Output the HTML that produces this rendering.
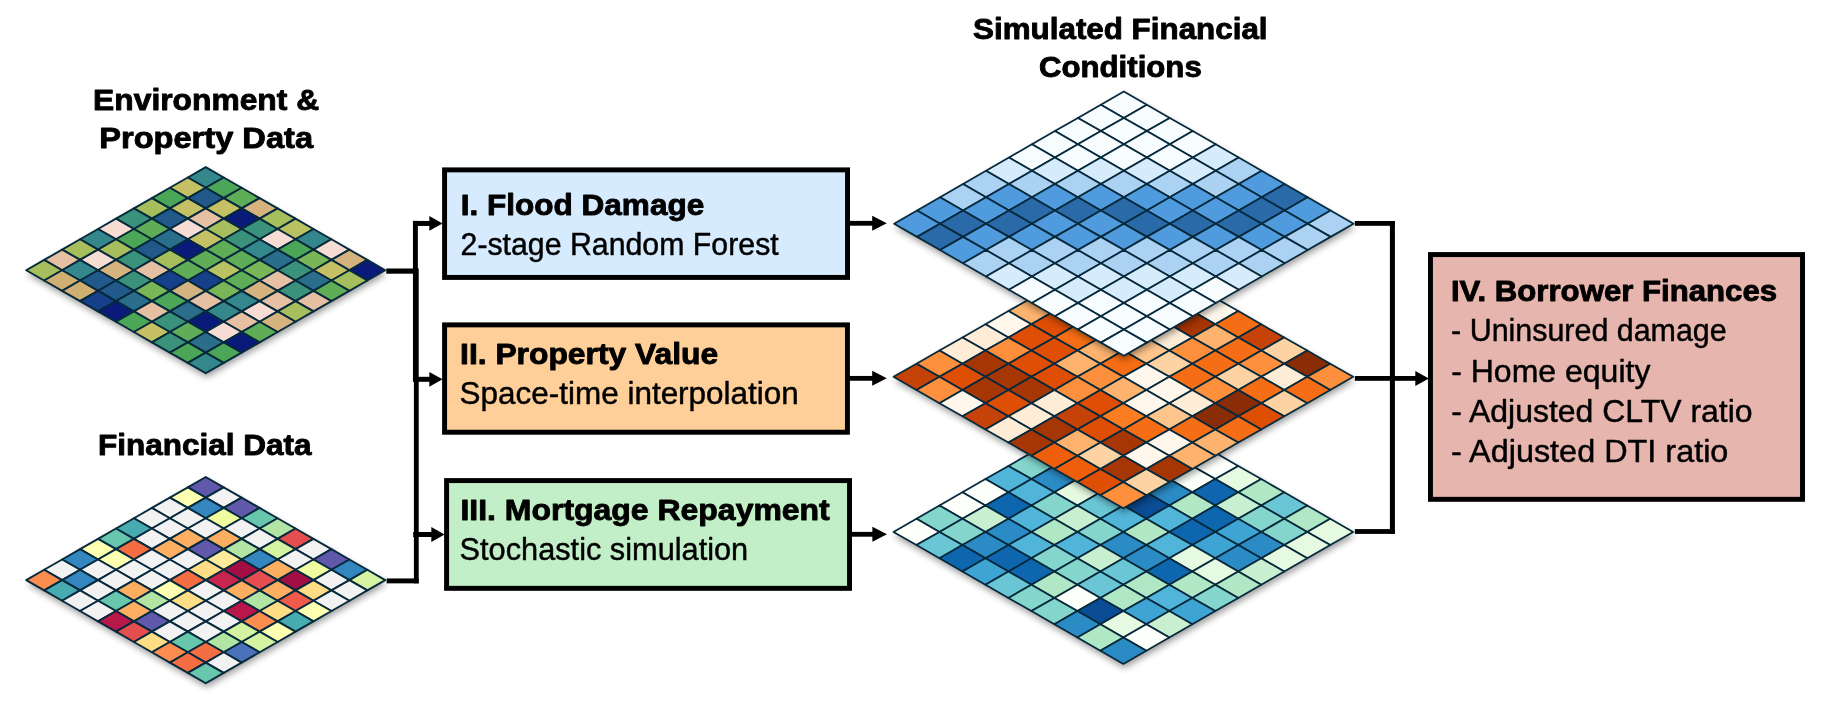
<!DOCTYPE html>
<html lang="en"><head><meta charset="utf-8"><title>Framework diagram</title>
<style>
html,body{margin:0;padding:0;background:#fff;}
body{width:1823px;height:710px;overflow:hidden;}
svg{display:block;}
text{font-family:"Liberation Sans",sans-serif;fill:#000;stroke:#000;stroke-linejoin:round;}
</style></head><body>
<svg width="1823" height="710" viewBox="0 0 1823 710">
<defs>
<filter id="sh" x="-10%" y="-10%" width="120%" height="125%">
<feGaussianBlur stdDeviation="3.6"/>
<feOffset dx="0.6" dy="3.6"/>
</filter>
</defs>
<rect width="1823" height="710" fill="#fff"/>

<g fill="#000" shape-rendering="geometricPrecision">
<rect x="386.30" y="268.50" width="31.70" height="5.20"/>
<rect x="386.60" y="578.45" width="32.10" height="4.90"/>
<rect x="412.95" y="220.90" width="4.90" height="160.80"/>
<rect x="413.90" y="268.50" width="4.80" height="314.80"/>
<rect x="413.00" y="220.95" width="18.00" height="5.00"/>
<rect x="413.00" y="376.80" width="18.00" height="5.00"/>
<rect x="413.20" y="532.00" width="18.80" height="5.00"/>
<polygon points="442.60,223.45 429.30,216.05 429.30,230.85"/>
<polygon points="442.60,379.30 429.30,371.90 429.30,386.70"/>
<polygon points="444.60,534.50 431.30,527.10 431.30,541.90"/>
<rect x="849.00" y="220.90" width="25.00" height="4.80"/>
<rect x="849.00" y="375.95" width="25.00" height="4.80"/>
<rect x="851.00" y="531.90" width="23.00" height="4.80"/>
<polygon points="886.80,223.30 872.20,215.80 872.20,230.80"/>
<polygon points="886.80,378.35 872.20,370.85 872.20,385.85"/>
<polygon points="887.00,534.30 872.40,526.80 872.40,541.80"/>
<rect x="1354.80" y="221.00" width="40.10" height="4.80"/>
<rect x="1354.80" y="529.10" width="40.10" height="4.80"/>
<rect x="1389.90" y="221.00" width="5.00" height="312.90"/>
<rect x="1354.80" y="376.00" width="62.20" height="4.80"/>
<polygon points="1428.90,378.40 1415.30,370.90 1415.30,385.90"/>
</g>
<g id="g-env">
<polygon points="205.75,167.15 385.30,270.20 205.75,373.25 26.20,270.20" fill="#000" opacity="0.4" filter="url(#sh)"/>
<g stroke="#06293c" stroke-width="1.9" stroke-linejoin="round">
<polygon points="205.75,167.15 223.70,177.45 205.75,187.76 187.80,177.45" fill="#34878a"/>
<polygon points="187.80,177.45 205.75,187.76 187.80,198.06 169.84,187.76" fill="#c6c064"/>
<polygon points="223.70,177.45 241.66,187.76 223.70,198.06 205.75,187.76" fill="#4ca657"/>
<polygon points="169.84,187.76 187.80,198.06 169.84,208.37 151.88,198.06" fill="#4ca657"/>
<polygon points="205.75,187.76 223.70,198.06 205.75,208.37 187.80,198.06" fill="#20598a"/>
<polygon points="241.66,187.76 259.62,198.06 241.66,208.37 223.70,198.06" fill="#5fae57"/>
<polygon points="151.88,198.06 169.84,208.37 151.88,218.67 133.93,208.37" fill="#a6bf5c"/>
<polygon points="187.80,198.06 205.75,208.37 187.80,218.67 169.84,208.37" fill="#c6c064"/>
<polygon points="223.70,198.06 241.66,208.37 223.70,218.67 205.75,208.37" fill="#c6c064"/>
<polygon points="259.62,198.06 277.57,208.37 259.62,218.67 241.66,208.37" fill="#d5b37e"/>
<polygon points="133.93,208.37 151.88,218.67 133.93,228.98 115.98,218.67" fill="#3a927a"/>
<polygon points="169.84,208.37 187.80,218.67 169.84,228.98 151.88,218.67" fill="#20598a"/>
<polygon points="205.75,208.37 223.70,218.67 205.75,228.98 187.80,218.67" fill="#e5c0a3"/>
<polygon points="241.66,208.37 259.62,218.67 241.66,228.98 223.70,218.67" fill="#0a1a7a"/>
<polygon points="277.57,208.37 295.52,218.67 277.57,228.98 259.62,218.67" fill="#a6bf5c"/>
<polygon points="115.98,218.67 133.93,228.98 115.98,239.28 98.02,228.98" fill="#f6dcd2"/>
<polygon points="151.88,218.67 169.84,228.98 151.88,239.28 133.93,228.98" fill="#5fae57"/>
<polygon points="187.80,218.67 205.75,228.98 187.80,239.28 169.84,228.98" fill="#f6dcd2"/>
<polygon points="223.70,218.67 241.66,228.98 223.70,239.28 205.75,228.98" fill="#a6bf5c"/>
<polygon points="259.62,218.67 277.57,228.98 259.62,239.28 241.66,228.98" fill="#3a927a"/>
<polygon points="295.52,218.67 313.48,228.98 295.52,239.28 277.57,228.98" fill="#b8c260"/>
<polygon points="98.02,228.98 115.98,239.28 98.02,249.59 80.07,239.28" fill="#34878a"/>
<polygon points="133.93,228.98 151.88,239.28 133.93,249.59 115.98,239.28" fill="#4ca657"/>
<polygon points="169.84,228.98 187.80,239.28 169.84,249.59 151.88,239.28" fill="#2a6e8c"/>
<polygon points="205.75,228.98 223.70,239.28 205.75,249.59 187.80,239.28" fill="#c6c064"/>
<polygon points="241.66,228.98 259.62,239.28 241.66,249.59 223.70,239.28" fill="#3a927a"/>
<polygon points="277.57,228.98 295.52,239.28 277.57,249.59 259.62,239.28" fill="#f6dcd2"/>
<polygon points="313.48,228.98 331.44,239.28 313.48,249.59 295.53,239.28" fill="#34878a"/>
<polygon points="80.07,239.28 98.02,249.59 80.07,259.89 62.11,249.59" fill="#a6bf5c"/>
<polygon points="115.98,239.28 133.93,249.59 115.98,259.89 98.02,249.59" fill="#a6bf5c"/>
<polygon points="151.88,239.28 169.84,249.59 151.88,259.89 133.93,249.59" fill="#20598a"/>
<polygon points="187.80,239.28 205.75,249.59 187.80,259.89 169.84,249.59" fill="#0a1a7a"/>
<polygon points="223.70,239.28 241.66,249.59 223.70,259.89 205.75,249.59" fill="#5fae57"/>
<polygon points="259.62,239.28 277.57,249.59 259.62,259.89 241.66,249.59" fill="#34878a"/>
<polygon points="295.52,239.28 313.48,249.59 295.52,259.89 277.57,249.59" fill="#4ca657"/>
<polygon points="331.44,239.28 349.39,249.59 331.44,259.89 313.48,249.59" fill="#f6dcd2"/>
<polygon points="62.11,249.59 80.07,259.89 62.11,270.20 44.16,259.89" fill="#e5c0a3"/>
<polygon points="98.02,249.59 115.98,259.89 98.02,270.20 80.07,259.89" fill="#f6dcd2"/>
<polygon points="133.93,249.59 151.88,259.89 133.93,270.20 115.98,259.89" fill="#3a927a"/>
<polygon points="169.84,249.59 187.80,259.89 169.84,270.20 151.88,259.89" fill="#a6bf5c"/>
<polygon points="205.75,249.59 223.70,259.89 205.75,270.20 187.80,259.89" fill="#5fae57"/>
<polygon points="241.66,249.59 259.62,259.89 241.66,270.20 223.70,259.89" fill="#5fae57"/>
<polygon points="277.57,249.59 295.52,259.89 277.57,270.20 259.62,259.89" fill="#2a6e8c"/>
<polygon points="313.48,249.59 331.44,259.89 313.48,270.20 295.53,259.89" fill="#7ab558"/>
<polygon points="349.39,249.59 367.34,259.89 349.39,270.20 331.44,259.89" fill="#d5b37e"/>
<polygon points="44.16,259.89 62.11,270.20 44.16,280.50 26.20,270.20" fill="#a6bf5c"/>
<polygon points="80.07,259.89 98.02,270.20 80.07,280.50 62.11,270.20" fill="#34878a"/>
<polygon points="115.98,259.89 133.93,270.20 115.98,280.50 98.02,270.20" fill="#d5b37e"/>
<polygon points="151.88,259.89 169.84,270.20 151.88,280.50 133.93,270.20" fill="#e5c0a3"/>
<polygon points="187.80,259.89 205.75,270.20 187.80,280.50 169.84,270.20" fill="#5fae57"/>
<polygon points="223.70,259.89 241.66,270.20 223.70,280.50 205.75,270.20" fill="#b8c260"/>
<polygon points="259.62,259.89 277.57,270.20 259.62,280.50 241.66,270.20" fill="#7ab558"/>
<polygon points="295.52,259.89 313.48,270.20 295.52,280.50 277.57,270.20" fill="#3a927a"/>
<polygon points="331.44,259.89 349.39,270.20 331.44,280.50 313.48,270.20" fill="#c6c064"/>
<polygon points="367.34,259.89 385.30,270.20 367.34,280.50 349.39,270.20" fill="#0a1a7a"/>
<polygon points="62.11,270.20 80.07,280.50 62.11,290.81 44.16,280.50" fill="#cfb072"/>
<polygon points="98.02,270.20 115.98,280.50 98.02,290.81 80.07,280.50" fill="#20598a"/>
<polygon points="133.93,270.20 151.88,280.50 133.93,290.81 115.98,280.50" fill="#3a927a"/>
<polygon points="169.84,270.20 187.80,280.50 169.84,290.81 151.88,280.50" fill="#17408a"/>
<polygon points="205.75,270.20 223.70,280.50 205.75,290.81 187.80,280.50" fill="#17408a"/>
<polygon points="241.66,270.20 259.62,280.50 241.66,290.81 223.70,280.50" fill="#5fae57"/>
<polygon points="277.57,270.20 295.52,280.50 277.57,290.81 259.62,280.50" fill="#e5c0a3"/>
<polygon points="313.48,270.20 331.44,280.50 313.48,290.81 295.53,280.50" fill="#2a6e8c"/>
<polygon points="349.39,270.20 367.34,280.50 349.39,290.81 331.44,280.50" fill="#a6bf5c"/>
<polygon points="80.07,280.50 98.02,290.81 80.07,301.11 62.11,290.81" fill="#cfb072"/>
<polygon points="115.98,280.50 133.93,290.81 115.98,301.11 98.02,290.81" fill="#20598a"/>
<polygon points="151.88,280.50 169.84,290.81 151.88,301.11 133.93,290.81" fill="#7ab558"/>
<polygon points="187.80,280.50 205.75,290.81 187.80,301.11 169.84,290.81" fill="#d5b37e"/>
<polygon points="223.70,280.50 241.66,290.81 223.70,301.11 205.75,290.81" fill="#7ab558"/>
<polygon points="259.62,280.50 277.57,290.81 259.62,301.11 241.66,290.81" fill="#d5b37e"/>
<polygon points="295.52,280.50 313.48,290.81 295.52,301.11 277.57,290.81" fill="#3a927a"/>
<polygon points="331.44,280.50 349.39,290.81 331.44,301.11 313.48,290.81" fill="#5fae57"/>
<polygon points="98.02,290.81 115.98,301.12 98.02,311.42 80.07,301.12" fill="#17408a"/>
<polygon points="133.93,290.81 151.88,301.12 133.93,311.42 115.98,301.12" fill="#2a6e8c"/>
<polygon points="169.84,290.81 187.80,301.12 169.84,311.42 151.88,301.12" fill="#4ca657"/>
<polygon points="205.75,290.81 223.70,301.12 205.75,311.42 187.80,301.12" fill="#e5c0a3"/>
<polygon points="241.66,290.81 259.62,301.12 241.66,311.42 223.70,301.12" fill="#34878a"/>
<polygon points="277.57,290.81 295.52,301.12 277.57,311.42 259.62,301.12" fill="#e5c0a3"/>
<polygon points="313.48,290.81 331.44,301.12 313.48,311.42 295.53,301.12" fill="#e5c0a3"/>
<polygon points="115.98,301.11 133.93,311.42 115.98,321.72 98.02,311.42" fill="#0a1a7a"/>
<polygon points="151.88,301.11 169.84,311.42 151.88,321.72 133.93,311.42" fill="#e5c0a3"/>
<polygon points="187.80,301.11 205.75,311.42 187.80,321.72 169.84,311.42" fill="#2a6e8c"/>
<polygon points="223.70,301.11 241.66,311.42 223.70,321.72 205.75,311.42" fill="#34878a"/>
<polygon points="259.62,301.11 277.57,311.42 259.62,321.72 241.66,311.42" fill="#f6dcd2"/>
<polygon points="295.52,301.11 313.48,311.42 295.52,321.72 277.57,311.42" fill="#a6bf5c"/>
<polygon points="133.93,311.42 151.88,321.72 133.93,332.03 115.98,321.72" fill="#4ca657"/>
<polygon points="169.84,311.42 187.80,321.72 169.84,332.03 151.88,321.72" fill="#3a927a"/>
<polygon points="205.75,311.42 223.70,321.72 205.75,332.03 187.80,321.72" fill="#0a1a7a"/>
<polygon points="241.66,311.42 259.62,321.72 241.66,332.03 223.70,321.72" fill="#e5c0a3"/>
<polygon points="277.57,311.42 295.52,321.72 277.57,332.03 259.62,321.72" fill="#d5b37e"/>
<polygon points="151.88,321.72 169.84,332.03 151.88,342.33 133.93,332.03" fill="#c6c064"/>
<polygon points="187.80,321.72 205.75,332.03 187.80,342.33 169.84,332.03" fill="#5fae57"/>
<polygon points="223.70,321.72 241.66,332.03 223.70,342.33 205.75,332.03" fill="#f6dcd2"/>
<polygon points="259.62,321.72 277.57,332.03 259.62,342.33 241.66,332.03" fill="#5fae57"/>
<polygon points="169.84,332.03 187.80,342.33 169.84,352.64 151.88,342.33" fill="#3a927a"/>
<polygon points="205.75,332.03 223.70,342.33 205.75,352.64 187.80,342.33" fill="#2a6e8c"/>
<polygon points="241.66,332.03 259.62,342.33 241.66,352.64 223.70,342.33" fill="#0a1a7a"/>
<polygon points="187.80,342.33 205.75,352.64 187.80,362.94 169.84,352.64" fill="#4ca657"/>
<polygon points="223.70,342.33 241.66,352.64 223.70,362.94 205.75,352.64" fill="#4ca657"/>
<polygon points="205.75,352.64 223.70,362.94 205.75,373.25 187.80,362.94" fill="#34878a"/>
</g></g>
<g id="g-fin">
<polygon points="205.75,477.00 385.30,580.10 205.75,683.20 26.20,580.10" fill="#000" opacity="0.4" filter="url(#sh)"/>
<g stroke="#06293c" stroke-width="1.9" stroke-linejoin="round">
<polygon points="205.75,477.00 223.70,487.31 205.75,497.62 187.80,487.31" fill="#5f58ab"/>
<polygon points="187.80,487.31 205.75,497.62 187.80,507.93 169.84,497.62" fill="#ffffb2"/>
<polygon points="223.70,487.31 241.66,497.62 223.70,507.93 205.75,497.62" fill="#f2f2f2"/>
<polygon points="169.84,497.62 187.80,507.93 169.84,518.24 151.88,507.93" fill="#f2f2f2"/>
<polygon points="205.75,497.62 223.70,507.93 205.75,518.24 187.80,507.93" fill="#3386be"/>
<polygon points="241.66,497.62 259.62,507.93 241.66,518.24 223.70,507.93" fill="#5f58ab"/>
<polygon points="151.88,507.93 169.84,518.24 151.88,528.55 133.93,518.24" fill="#f2f2f2"/>
<polygon points="187.80,507.93 205.75,518.24 187.80,528.55 169.84,518.24" fill="#f2f2f2"/>
<polygon points="223.70,507.93 241.66,518.24 223.70,528.55 205.75,518.24" fill="#effca0"/>
<polygon points="259.62,507.93 277.57,518.24 259.62,528.55 241.66,518.24" fill="#68c6ac"/>
<polygon points="133.93,518.24 151.88,528.55 133.93,538.86 115.98,528.55" fill="#47abb1"/>
<polygon points="169.84,518.24 187.80,528.55 169.84,538.86 151.88,528.55" fill="#f2f2f2"/>
<polygon points="205.75,518.24 223.70,528.55 205.75,538.86 187.80,528.55" fill="#f2f2f2"/>
<polygon points="241.66,518.24 259.62,528.55 241.66,538.86 223.70,528.55" fill="#f2f2f2"/>
<polygon points="277.57,518.24 295.52,528.55 277.57,538.86 259.62,528.55" fill="#b2e4a3"/>
<polygon points="115.98,528.55 133.93,538.86 115.98,549.17 98.02,538.86" fill="#68c6ac"/>
<polygon points="151.88,528.55 169.84,538.86 151.88,549.17 133.93,538.86" fill="#f2f2f2"/>
<polygon points="187.80,528.55 205.75,538.86 187.80,549.17 169.84,538.86" fill="#fdae61"/>
<polygon points="223.70,528.55 241.66,538.86 223.70,549.17 205.75,538.86" fill="#fdae61"/>
<polygon points="259.62,528.55 277.57,538.86 259.62,549.17 241.66,538.86" fill="#f2f2f2"/>
<polygon points="295.52,528.55 313.48,538.86 295.52,549.17 277.57,538.86" fill="#e54e4e"/>
<polygon points="98.02,538.86 115.98,549.17 98.02,559.48 80.07,549.17" fill="#ffffb2"/>
<polygon points="133.93,538.86 151.88,549.17 133.93,559.48 115.98,549.17" fill="#f46d43"/>
<polygon points="169.84,538.86 187.80,549.17 169.84,559.48 151.88,549.17" fill="#fdae61"/>
<polygon points="205.75,538.86 223.70,549.17 205.75,559.48 187.80,549.17" fill="#5f58ab"/>
<polygon points="241.66,538.86 259.62,549.17 241.66,559.48 223.70,549.17" fill="#b2e4a3"/>
<polygon points="277.57,538.86 295.52,549.17 277.57,559.48 259.62,549.17" fill="#d5f3a0"/>
<polygon points="313.48,538.86 331.44,549.17 313.48,559.48 295.53,549.17" fill="#f2f2f2"/>
<polygon points="80.07,549.17 98.02,559.48 80.07,569.79 62.11,559.48" fill="#3386be"/>
<polygon points="115.98,549.17 133.93,559.48 115.98,569.79 98.02,559.48" fill="#ffffb2"/>
<polygon points="151.88,549.17 169.84,559.48 151.88,569.79 133.93,559.48" fill="#f2f2f2"/>
<polygon points="187.80,549.17 205.75,559.48 187.80,569.79 169.84,559.48" fill="#f2f2f2"/>
<polygon points="223.70,549.17 241.66,559.48 223.70,569.79 205.75,559.48" fill="#feea99"/>
<polygon points="259.62,549.17 277.57,559.48 259.62,569.79 241.66,559.48" fill="#3386be"/>
<polygon points="295.52,549.17 313.48,559.48 295.52,569.79 277.57,559.48" fill="#f2f2f2"/>
<polygon points="331.44,549.17 349.39,559.48 331.44,569.79 313.48,559.48" fill="#5f58ab"/>
<polygon points="62.11,559.48 80.07,569.79 62.11,580.10 44.16,569.79" fill="#f2f2f2"/>
<polygon points="98.02,559.48 115.98,569.79 98.02,580.10 80.07,569.79" fill="#f2f2f2"/>
<polygon points="133.93,559.48 151.88,569.79 133.93,580.10 115.98,569.79" fill="#f2f2f2"/>
<polygon points="169.84,559.48 187.80,569.79 169.84,580.10 151.88,569.79" fill="#f2f2f2"/>
<polygon points="205.75,559.48 223.70,569.79 205.75,580.10 187.80,569.79" fill="#fedd85"/>
<polygon points="241.66,559.48 259.62,569.79 241.66,580.10 223.70,569.79" fill="#a30f45"/>
<polygon points="277.57,559.48 295.52,569.79 277.57,580.10 259.62,569.79" fill="#fdae61"/>
<polygon points="313.48,559.48 331.44,569.79 313.48,580.10 295.53,569.79" fill="#effca0"/>
<polygon points="349.39,559.48 367.34,569.79 349.39,580.10 331.44,569.79" fill="#3386be"/>
<polygon points="44.16,569.79 62.11,580.10 44.16,590.41 26.20,580.10" fill="#fc8d4e"/>
<polygon points="80.07,569.79 98.02,580.10 80.07,590.41 62.11,580.10" fill="#3386be"/>
<polygon points="115.98,569.79 133.93,580.10 115.98,590.41 98.02,580.10" fill="#f2f2f2"/>
<polygon points="151.88,569.79 169.84,580.10 151.88,590.41 133.93,580.10" fill="#f2f2f2"/>
<polygon points="187.80,569.79 205.75,580.10 187.80,590.41 169.84,580.10" fill="#f46d43"/>
<polygon points="223.70,569.79 241.66,580.10 223.70,590.41 205.75,580.10" fill="#c8254c"/>
<polygon points="259.62,569.79 277.57,580.10 259.62,590.41 241.66,580.10" fill="#e54e4e"/>
<polygon points="295.52,569.79 313.48,580.10 295.52,590.41 277.57,580.10" fill="#a30f45"/>
<polygon points="331.44,569.79 349.39,580.10 331.44,590.41 313.48,580.10" fill="#f2f2f2"/>
<polygon points="367.34,569.79 385.30,580.10 367.34,590.41 349.39,580.10" fill="#d5f3a0"/>
<polygon points="62.11,580.10 80.07,590.41 62.11,600.72 44.16,590.41" fill="#47abb1"/>
<polygon points="98.02,580.10 115.98,590.41 98.02,600.72 80.07,590.41" fill="#f2f2f2"/>
<polygon points="133.93,580.10 151.88,590.41 133.93,600.72 115.98,590.41" fill="#fdae61"/>
<polygon points="169.84,580.10 187.80,590.41 169.84,600.72 151.88,590.41" fill="#ffffb2"/>
<polygon points="205.75,580.10 223.70,590.41 205.75,600.72 187.80,590.41" fill="#f2f2f2"/>
<polygon points="241.66,580.10 259.62,590.41 241.66,600.72 223.70,590.41" fill="#fdae61"/>
<polygon points="277.57,580.10 295.52,590.41 277.57,600.72 259.62,590.41" fill="#fdae61"/>
<polygon points="313.48,580.10 331.44,590.41 313.48,600.72 295.53,590.41" fill="#fedd85"/>
<polygon points="349.39,580.10 367.34,590.41 349.39,600.72 331.44,590.41" fill="#f2f2f2"/>
<polygon points="80.07,590.41 98.02,600.72 80.07,611.03 62.11,600.72" fill="#f2f2f2"/>
<polygon points="115.98,590.41 133.93,600.72 115.98,611.03 98.02,600.72" fill="#68c6ac"/>
<polygon points="151.88,590.41 169.84,600.72 151.88,611.03 133.93,600.72" fill="#b2e4a3"/>
<polygon points="187.80,590.41 205.75,600.72 187.80,611.03 169.84,600.72" fill="#fedd85"/>
<polygon points="223.70,590.41 241.66,600.72 223.70,611.03 205.75,600.72" fill="#f2f2f2"/>
<polygon points="259.62,590.41 277.57,600.72 259.62,611.03 241.66,600.72" fill="#b2e4a3"/>
<polygon points="295.52,590.41 313.48,600.72 295.52,611.03 277.57,600.72" fill="#f05a4b"/>
<polygon points="331.44,590.41 349.39,600.72 331.44,611.03 313.48,600.72" fill="#f2f2f2"/>
<polygon points="98.02,600.72 115.98,611.03 98.02,621.34 80.07,611.03" fill="#f2f2f2"/>
<polygon points="133.93,600.72 151.88,611.03 133.93,621.34 115.98,611.03" fill="#fdae61"/>
<polygon points="169.84,600.72 187.80,611.03 169.84,621.34 151.88,611.03" fill="#f2f2f2"/>
<polygon points="205.75,600.72 223.70,611.03 205.75,621.34 187.80,611.03" fill="#f2f2f2"/>
<polygon points="241.66,600.72 259.62,611.03 241.66,621.34 223.70,611.03" fill="#b8174a"/>
<polygon points="277.57,600.72 295.52,611.03 277.57,621.34 259.62,611.03" fill="#fedd85"/>
<polygon points="313.48,600.72 331.44,611.03 313.48,621.34 295.53,611.03" fill="#ffffb2"/>
<polygon points="115.98,611.03 133.93,621.34 115.98,631.65 98.02,621.34" fill="#b8174a"/>
<polygon points="151.88,611.03 169.84,621.34 151.88,631.65 133.93,621.34" fill="#5f58ab"/>
<polygon points="187.80,611.03 205.75,621.34 187.80,631.65 169.84,621.34" fill="#f2f2f2"/>
<polygon points="223.70,611.03 241.66,621.34 223.70,631.65 205.75,621.34" fill="#f2f2f2"/>
<polygon points="259.62,611.03 277.57,621.34 259.62,631.65 241.66,621.34" fill="#fc8d4e"/>
<polygon points="295.52,611.03 313.48,621.34 295.52,631.65 277.57,621.34" fill="#47abb1"/>
<polygon points="133.93,621.34 151.88,631.65 133.93,641.96 115.98,631.65" fill="#e54e4e"/>
<polygon points="169.84,621.34 187.80,631.65 169.84,641.96 151.88,631.65" fill="#f2f2f2"/>
<polygon points="205.75,621.34 223.70,631.65 205.75,641.96 187.80,631.65" fill="#f2f2f2"/>
<polygon points="241.66,621.34 259.62,631.65 241.66,641.96 223.70,631.65" fill="#d5f3a0"/>
<polygon points="277.57,621.34 295.52,631.65 277.57,641.96 259.62,631.65" fill="#ffffb2"/>
<polygon points="151.88,631.65 169.84,641.96 151.88,652.27 133.93,641.96" fill="#fedd85"/>
<polygon points="187.80,631.65 205.75,641.96 187.80,652.27 169.84,641.96" fill="#68c6ac"/>
<polygon points="223.70,631.65 241.66,641.96 223.70,652.27 205.75,641.96" fill="#b2e4a3"/>
<polygon points="259.62,631.65 277.57,641.96 259.62,652.27 241.66,641.96" fill="#d5f3a0"/>
<polygon points="169.84,641.96 187.80,652.27 169.84,662.58 151.88,652.27" fill="#fc8d4e"/>
<polygon points="205.75,641.96 223.70,652.27 205.75,662.58 187.80,652.27" fill="#f46d43"/>
<polygon points="241.66,641.96 259.62,652.27 241.66,662.58 223.70,652.27" fill="#4a72ba"/>
<polygon points="187.80,652.27 205.75,662.58 187.80,672.89 169.84,662.58" fill="#f46d43"/>
<polygon points="223.70,652.27 241.66,662.58 223.70,672.89 205.75,662.58" fill="#f2f2f2"/>
<polygon points="205.75,662.58 223.70,672.89 205.75,683.20 187.80,672.89" fill="#68c6ac"/>
</g></g>
<g id="g-teal">
<polygon points="1123.35,399.90 1353.20,531.90 1123.35,663.90 893.50,531.90" fill="#000" opacity="0.4" filter="url(#sh)"/>
<g stroke="#06293c" stroke-width="1.75" stroke-linejoin="round">
<polygon points="1123.35,399.90 1146.33,413.10 1123.35,426.30 1100.37,413.10" fill="#84d6cc"/>
<polygon points="1100.37,413.10 1123.35,426.30 1100.37,439.50 1077.38,426.30" fill="#b0e7c4"/>
<polygon points="1146.33,413.10 1169.32,426.30 1146.33,439.50 1123.35,426.30" fill="#50b5d8"/>
<polygon points="1077.38,426.30 1100.36,439.50 1077.38,452.70 1054.39,439.50" fill="#84d6cc"/>
<polygon points="1123.35,426.30 1146.33,439.50 1123.35,452.70 1100.37,439.50" fill="#2b8bc5"/>
<polygon points="1169.32,426.30 1192.30,439.50 1169.32,452.70 1146.34,439.50" fill="#e6fae2"/>
<polygon points="1054.39,439.50 1077.38,452.70 1054.39,465.90 1031.41,452.70" fill="#50b5d8"/>
<polygon points="1100.37,439.50 1123.35,452.70 1100.37,465.90 1077.38,452.70" fill="#c8f0d0"/>
<polygon points="1146.33,439.50 1169.32,452.70 1146.33,465.90 1123.35,452.70" fill="#84d6cc"/>
<polygon points="1192.30,439.50 1215.29,452.70 1192.30,465.90 1169.32,452.70" fill="#e6fae2"/>
<polygon points="1031.41,452.70 1054.39,465.90 1031.41,479.10 1008.42,465.90" fill="#84d6cc"/>
<polygon points="1077.38,452.70 1100.36,465.90 1077.38,479.10 1054.39,465.90" fill="#50b5d8"/>
<polygon points="1123.35,452.70 1146.33,465.90 1123.35,479.10 1100.37,465.90" fill="#50b5d8"/>
<polygon points="1169.32,452.70 1192.30,465.90 1169.32,479.10 1146.34,465.90" fill="#b0e7c4"/>
<polygon points="1215.29,452.70 1238.27,465.90 1215.29,479.10 1192.31,465.90" fill="#fdfffa"/>
<polygon points="1008.42,465.90 1031.41,479.10 1008.42,492.30 985.44,479.10" fill="#50b5d8"/>
<polygon points="1054.39,465.90 1077.38,479.10 1054.39,492.30 1031.41,479.10" fill="#2b8bc5"/>
<polygon points="1100.37,465.90 1123.35,479.10 1100.37,492.30 1077.38,479.10" fill="#50b5d8"/>
<polygon points="1146.33,465.90 1169.32,479.10 1146.33,492.30 1123.35,479.10" fill="#84d6cc"/>
<polygon points="1192.30,465.90 1215.29,479.10 1192.30,492.30 1169.32,479.10" fill="#fdfffa"/>
<polygon points="1238.27,465.90 1261.26,479.10 1238.27,492.30 1215.29,479.10" fill="#e6fae2"/>
<polygon points="985.44,479.10 1008.42,492.30 985.44,505.50 962.45,492.30" fill="#fdfffa"/>
<polygon points="1031.41,479.10 1054.39,492.30 1031.41,505.50 1008.42,492.30" fill="#50b5d8"/>
<polygon points="1077.38,479.10 1100.36,492.30 1077.38,505.50 1054.39,492.30" fill="#e6fae2"/>
<polygon points="1123.35,479.10 1146.33,492.30 1123.35,505.50 1100.37,492.30" fill="#2b8bc5"/>
<polygon points="1169.32,479.10 1192.30,492.30 1169.32,505.50 1146.34,492.30" fill="#2b8bc5"/>
<polygon points="1215.29,479.10 1238.27,492.30 1215.29,505.50 1192.31,492.30" fill="#0d66ae"/>
<polygon points="1261.26,479.10 1284.24,492.30 1261.26,505.50 1238.28,492.30" fill="#b0e7c4"/>
<polygon points="962.45,492.30 985.44,505.50 962.45,518.70 939.47,505.50" fill="#fdfffa"/>
<polygon points="1008.42,492.30 1031.41,505.50 1008.42,518.70 985.44,505.50" fill="#0d66ae"/>
<polygon points="1054.39,492.30 1077.38,505.50 1054.39,518.70 1031.41,505.50" fill="#84d6cc"/>
<polygon points="1100.37,492.30 1123.35,505.50 1100.37,518.70 1077.38,505.50" fill="#6ac6d4"/>
<polygon points="1146.33,492.30 1169.32,505.50 1146.33,518.70 1123.35,505.50" fill="#0a4c96"/>
<polygon points="1192.30,492.30 1215.29,505.50 1192.30,518.70 1169.32,505.50" fill="#b0e7c4"/>
<polygon points="1238.27,492.30 1261.26,505.50 1238.27,518.70 1215.29,505.50" fill="#c8f0d0"/>
<polygon points="1284.24,492.30 1307.23,505.50 1284.24,518.70 1261.26,505.50" fill="#6ac6d4"/>
<polygon points="939.47,505.50 962.45,518.70 939.47,531.90 916.48,518.70" fill="#84d6cc"/>
<polygon points="985.44,505.50 1008.42,518.70 985.44,531.90 962.45,518.70" fill="#c8f0d0"/>
<polygon points="1031.41,505.50 1054.39,518.70 1031.41,531.90 1008.42,518.70" fill="#50b5d8"/>
<polygon points="1077.38,505.50 1100.36,518.70 1077.38,531.90 1054.39,518.70" fill="#c8f0d0"/>
<polygon points="1123.35,505.50 1146.33,518.70 1123.35,531.90 1100.37,518.70" fill="#50b5d8"/>
<polygon points="1169.32,505.50 1192.30,518.70 1169.32,531.90 1146.34,518.70" fill="#50b5d8"/>
<polygon points="1215.29,505.50 1238.27,518.70 1215.29,531.90 1192.31,518.70" fill="#0d66ae"/>
<polygon points="1261.26,505.50 1284.24,518.70 1261.26,531.90 1238.28,518.70" fill="#84d6cc"/>
<polygon points="1307.23,505.50 1330.21,518.70 1307.23,531.90 1284.25,518.70" fill="#b0e7c4"/>
<polygon points="916.48,518.70 939.47,531.90 916.48,545.10 893.50,531.90" fill="#fdfffa"/>
<polygon points="962.45,518.70 985.44,531.90 962.45,545.10 939.47,531.90" fill="#84d6cc"/>
<polygon points="1008.42,518.70 1031.41,531.90 1008.42,545.10 985.44,531.90" fill="#2b8bc5"/>
<polygon points="1054.39,518.70 1077.38,531.90 1054.39,545.10 1031.41,531.90" fill="#b0e7c4"/>
<polygon points="1100.37,518.70 1123.35,531.90 1100.37,545.10 1077.38,531.90" fill="#84d6cc"/>
<polygon points="1146.33,518.70 1169.32,531.90 1146.33,545.10 1123.35,531.90" fill="#b0e7c4"/>
<polygon points="1192.30,518.70 1215.29,531.90 1192.30,545.10 1169.32,531.90" fill="#0d66ae"/>
<polygon points="1238.27,518.70 1261.26,531.90 1238.27,545.10 1215.29,531.90" fill="#3ea4d4"/>
<polygon points="1284.24,518.70 1307.23,531.90 1284.24,545.10 1261.26,531.90" fill="#84d6cc"/>
<polygon points="1330.21,518.70 1353.20,531.90 1330.21,545.10 1307.23,531.90" fill="#e6fae2"/>
<polygon points="939.47,531.90 962.45,545.10 939.47,558.30 916.48,545.10" fill="#6ac6d4"/>
<polygon points="985.44,531.90 1008.42,545.10 985.44,558.30 962.45,545.10" fill="#2b8bc5"/>
<polygon points="1031.41,531.90 1054.39,545.10 1031.41,558.30 1008.42,545.10" fill="#50b5d8"/>
<polygon points="1077.38,531.90 1100.36,545.10 1077.38,558.30 1054.39,545.10" fill="#50b5d8"/>
<polygon points="1123.35,531.90 1146.33,545.10 1123.35,558.30 1100.37,545.10" fill="#2b8bc5"/>
<polygon points="1169.32,531.90 1192.30,545.10 1169.32,558.30 1146.34,545.10" fill="#50b5d8"/>
<polygon points="1215.29,531.90 1238.27,545.10 1215.29,558.30 1192.31,545.10" fill="#3ea4d4"/>
<polygon points="1261.26,531.90 1284.24,545.10 1261.26,558.30 1238.28,545.10" fill="#2b8bc5"/>
<polygon points="1307.23,531.90 1330.21,545.10 1307.23,558.30 1284.25,545.10" fill="#e6fae2"/>
<polygon points="962.45,545.10 985.44,558.30 962.45,571.50 939.47,558.30" fill="#0d66ae"/>
<polygon points="1008.42,545.10 1031.41,558.30 1008.42,571.50 985.44,558.30" fill="#0d66ae"/>
<polygon points="1054.39,545.10 1077.38,558.30 1054.39,571.50 1031.41,558.30" fill="#84d6cc"/>
<polygon points="1100.37,545.10 1123.35,558.30 1100.37,571.50 1077.38,558.30" fill="#c8f0d0"/>
<polygon points="1146.33,545.10 1169.32,558.30 1146.33,571.50 1123.35,558.30" fill="#2b8bc5"/>
<polygon points="1192.30,545.10 1215.29,558.30 1192.30,571.50 1169.32,558.30" fill="#e6fae2"/>
<polygon points="1238.27,545.10 1261.26,558.30 1238.27,571.50 1215.29,558.30" fill="#2b8bc5"/>
<polygon points="1284.24,545.10 1307.23,558.30 1284.24,571.50 1261.26,558.30" fill="#e6fae2"/>
<polygon points="985.44,558.30 1008.42,571.50 985.44,584.70 962.45,571.50" fill="#3ea4d4"/>
<polygon points="1031.41,558.30 1054.39,571.50 1031.41,584.70 1008.42,571.50" fill="#0d66ae"/>
<polygon points="1077.38,558.30 1100.36,571.50 1077.38,584.70 1054.39,571.50" fill="#84d6cc"/>
<polygon points="1123.35,558.30 1146.33,571.50 1123.35,584.70 1100.37,571.50" fill="#6ac6d4"/>
<polygon points="1169.32,558.30 1192.30,571.50 1169.32,584.70 1146.34,571.50" fill="#0d66ae"/>
<polygon points="1215.29,558.30 1238.27,571.50 1215.29,584.70 1192.31,571.50" fill="#e6fae2"/>
<polygon points="1261.26,558.30 1284.24,571.50 1261.26,584.70 1238.28,571.50" fill="#c8f0d0"/>
<polygon points="1008.42,571.50 1031.41,584.70 1008.42,597.90 985.44,584.70" fill="#6ac6d4"/>
<polygon points="1054.39,571.50 1077.38,584.70 1054.39,597.90 1031.41,584.70" fill="#b0e7c4"/>
<polygon points="1100.37,571.50 1123.35,584.70 1100.37,597.90 1077.38,584.70" fill="#6ac6d4"/>
<polygon points="1146.33,571.50 1169.32,584.70 1146.33,597.90 1123.35,584.70" fill="#b0e7c4"/>
<polygon points="1192.30,571.50 1215.29,584.70 1192.30,597.90 1169.32,584.70" fill="#b0e7c4"/>
<polygon points="1238.27,571.50 1261.26,584.70 1238.27,597.90 1215.29,584.70" fill="#b0e7c4"/>
<polygon points="1031.41,584.70 1054.39,597.90 1031.41,611.10 1008.42,597.90" fill="#84d6cc"/>
<polygon points="1077.38,584.70 1100.36,597.90 1077.38,611.10 1054.39,597.90" fill="#fdfffa"/>
<polygon points="1123.35,584.70 1146.33,597.90 1123.35,611.10 1100.37,597.90" fill="#b0e7c4"/>
<polygon points="1169.32,584.70 1192.30,597.90 1169.32,611.10 1146.34,597.90" fill="#50b5d8"/>
<polygon points="1215.29,584.70 1238.27,597.90 1215.29,611.10 1192.31,597.90" fill="#84d6cc"/>
<polygon points="1054.39,597.90 1077.38,611.10 1054.39,624.30 1031.41,611.10" fill="#84d6cc"/>
<polygon points="1100.37,597.90 1123.35,611.10 1100.37,624.30 1077.38,611.10" fill="#0a4c96"/>
<polygon points="1146.33,597.90 1169.32,611.10 1146.33,624.30 1123.35,611.10" fill="#3ea4d4"/>
<polygon points="1192.30,597.90 1215.29,611.10 1192.30,624.30 1169.32,611.10" fill="#3ea4d4"/>
<polygon points="1077.38,611.10 1100.36,624.30 1077.38,637.50 1054.39,624.30" fill="#2b8bc5"/>
<polygon points="1123.35,611.10 1146.33,624.30 1123.35,637.50 1100.37,624.30" fill="#e6fae2"/>
<polygon points="1169.32,611.10 1192.30,624.30 1169.32,637.50 1146.34,624.30" fill="#c8f0d0"/>
<polygon points="1100.37,624.30 1123.35,637.50 1100.37,650.70 1077.38,637.50" fill="#b0e7c4"/>
<polygon points="1146.33,624.30 1169.32,637.50 1146.33,650.70 1123.35,637.50" fill="#fdfffa"/>
<polygon points="1123.35,637.50 1146.33,650.70 1123.35,663.90 1100.37,650.70" fill="#2b8bc5"/>
</g></g>
<g id="g-orange">
<polygon points="1123.35,245.35 1353.20,376.85 1123.35,508.35 893.50,376.85" fill="#000" opacity="0.4" filter="url(#sh)"/>
<g stroke="#06293c" stroke-width="1.75" stroke-linejoin="round">
<polygon points="1123.35,245.35 1146.33,258.50 1123.35,271.65 1100.37,258.50" fill="#f56d14"/>
<polygon points="1100.37,258.50 1123.35,271.65 1100.37,284.80 1077.38,271.65" fill="#fd8f3d"/>
<polygon points="1146.33,258.50 1169.32,271.65 1146.33,284.80 1123.35,271.65" fill="#f56d14"/>
<polygon points="1077.38,271.65 1100.36,284.80 1077.38,297.95 1054.39,284.80" fill="#fdb26e"/>
<polygon points="1123.35,271.65 1146.33,284.80 1123.35,297.95 1100.37,284.80" fill="#de4e05"/>
<polygon points="1169.32,271.65 1192.30,284.80 1169.32,297.95 1146.34,284.80" fill="#fdb26e"/>
<polygon points="1054.39,284.80 1077.38,297.95 1054.39,311.10 1031.41,297.95" fill="#fdd3a4"/>
<polygon points="1100.37,284.80 1123.35,297.95 1100.37,311.10 1077.38,297.95" fill="#f56d14"/>
<polygon points="1146.33,284.80 1169.32,297.95 1146.33,311.10 1123.35,297.95" fill="#fd8f3d"/>
<polygon points="1192.30,284.80 1215.29,297.95 1192.30,311.10 1169.32,297.95" fill="#feecd6"/>
<polygon points="1031.41,297.95 1054.39,311.10 1031.41,324.25 1008.42,311.10" fill="#fdb26e"/>
<polygon points="1077.38,297.95 1100.36,311.10 1077.38,324.25 1054.39,311.10" fill="#f56d14"/>
<polygon points="1123.35,297.95 1146.33,311.10 1123.35,324.25 1100.37,311.10" fill="#fd8f3d"/>
<polygon points="1169.32,297.95 1192.30,311.10 1169.32,324.25 1146.34,311.10" fill="#fd8f3d"/>
<polygon points="1215.29,297.95 1238.27,311.10 1215.29,324.25 1192.31,311.10" fill="#fff7ec"/>
<polygon points="1008.42,311.10 1031.41,324.25 1008.42,337.40 985.44,324.25" fill="#fff7ec"/>
<polygon points="1054.39,311.10 1077.38,324.25 1054.39,337.40 1031.41,324.25" fill="#de4e05"/>
<polygon points="1100.37,311.10 1123.35,324.25 1100.37,337.40 1077.38,324.25" fill="#f56d14"/>
<polygon points="1146.33,311.10 1169.32,324.25 1146.33,337.40 1123.35,324.25" fill="#fdb26e"/>
<polygon points="1192.30,311.10 1215.29,324.25 1192.30,337.40 1169.32,324.25" fill="#a63603"/>
<polygon points="1238.27,311.10 1261.26,324.25 1238.27,337.40 1215.29,324.25" fill="#f56d14"/>
<polygon points="985.44,324.25 1008.42,337.40 985.44,350.55 962.45,337.40" fill="#feecd6"/>
<polygon points="1031.41,324.25 1054.39,337.40 1031.41,350.55 1008.42,337.40" fill="#de4e05"/>
<polygon points="1077.38,324.25 1100.36,337.40 1077.38,350.55 1054.39,337.40" fill="#f56d14"/>
<polygon points="1123.35,324.25 1146.33,337.40 1123.35,350.55 1100.37,337.40" fill="#fd8f3d"/>
<polygon points="1169.32,324.25 1192.30,337.40 1169.32,350.55 1146.34,337.40" fill="#feecd6"/>
<polygon points="1215.29,324.25 1238.27,337.40 1215.29,350.55 1192.31,337.40" fill="#fdb26e"/>
<polygon points="1261.26,324.25 1284.24,337.40 1261.26,350.55 1238.28,337.40" fill="#c54308"/>
<polygon points="962.45,337.40 985.44,350.55 962.45,363.70 939.47,350.55" fill="#feecd6"/>
<polygon points="1008.42,337.40 1031.41,350.55 1008.42,363.70 985.44,350.55" fill="#fd8f3d"/>
<polygon points="1054.39,337.40 1077.38,350.55 1054.39,363.70 1031.41,350.55" fill="#de4e05"/>
<polygon points="1100.37,337.40 1123.35,350.55 1100.37,363.70 1077.38,350.55" fill="#fdb26e"/>
<polygon points="1146.33,337.40 1169.32,350.55 1146.33,363.70 1123.35,350.55" fill="#fdc48c"/>
<polygon points="1192.30,337.40 1215.29,350.55 1192.30,363.70 1169.32,350.55" fill="#fd8f3d"/>
<polygon points="1238.27,337.40 1261.26,350.55 1238.27,363.70 1215.29,350.55" fill="#f56d14"/>
<polygon points="1284.24,337.40 1307.23,350.55 1284.24,363.70 1261.26,350.55" fill="#fdd3a4"/>
<polygon points="939.47,350.55 962.45,363.70 939.47,376.85 916.48,363.70" fill="#fd8f3d"/>
<polygon points="985.44,350.55 1008.42,363.70 985.44,376.85 962.45,363.70" fill="#a63603"/>
<polygon points="1031.41,350.55 1054.39,363.70 1031.41,376.85 1008.42,363.70" fill="#de4e05"/>
<polygon points="1077.38,350.55 1100.36,363.70 1077.38,376.85 1054.39,363.70" fill="#fdb26e"/>
<polygon points="1123.35,350.55 1146.33,363.70 1123.35,376.85 1100.37,363.70" fill="#f56d14"/>
<polygon points="1169.32,350.55 1192.30,363.70 1169.32,376.85 1146.34,363.70" fill="#fdd3a4"/>
<polygon points="1215.29,350.55 1238.27,363.70 1215.29,376.85 1192.31,363.70" fill="#f56d14"/>
<polygon points="1261.26,350.55 1284.24,363.70 1261.26,376.85 1238.28,363.70" fill="#fd8f3d"/>
<polygon points="1307.23,350.55 1330.21,363.70 1307.23,376.85 1284.25,363.70" fill="#8a2c05"/>
<polygon points="916.48,363.70 939.47,376.85 916.48,390.00 893.50,376.85" fill="#c54308"/>
<polygon points="962.45,363.70 985.44,376.85 962.45,390.00 939.47,376.85" fill="#de4e05"/>
<polygon points="1008.42,363.70 1031.41,376.85 1008.42,390.00 985.44,376.85" fill="#a63603"/>
<polygon points="1054.39,363.70 1077.38,376.85 1054.39,390.00 1031.41,376.85" fill="#de4e05"/>
<polygon points="1100.37,363.70 1123.35,376.85 1100.37,390.00 1077.38,376.85" fill="#fd8f3d"/>
<polygon points="1146.33,363.70 1169.32,376.85 1146.33,390.00 1123.35,376.85" fill="#fff7ec"/>
<polygon points="1192.30,363.70 1215.29,376.85 1192.30,390.00 1169.32,376.85" fill="#f56d14"/>
<polygon points="1238.27,363.70 1261.26,376.85 1238.27,390.00 1215.29,376.85" fill="#fdd3a4"/>
<polygon points="1284.24,363.70 1307.23,376.85 1284.24,390.00 1261.26,376.85" fill="#feecd6"/>
<polygon points="1330.21,363.70 1353.20,376.85 1330.21,390.00 1307.23,376.85" fill="#fd8f3d"/>
<polygon points="939.47,376.85 962.45,390.00 939.47,403.15 916.48,390.00" fill="#fd8f3d"/>
<polygon points="985.44,376.85 1008.42,390.00 985.44,403.15 962.45,390.00" fill="#a63603"/>
<polygon points="1031.41,376.85 1054.39,390.00 1031.41,403.15 1008.42,390.00" fill="#a63603"/>
<polygon points="1077.38,376.85 1100.36,390.00 1077.38,403.15 1054.39,390.00" fill="#fd8f3d"/>
<polygon points="1123.35,376.85 1146.33,390.00 1123.35,403.15 1100.37,390.00" fill="#fdb26e"/>
<polygon points="1169.32,376.85 1192.30,390.00 1169.32,403.15 1146.34,390.00" fill="#fff7ec"/>
<polygon points="1215.29,376.85 1238.27,390.00 1215.29,403.15 1192.31,390.00" fill="#fd8f3d"/>
<polygon points="1261.26,376.85 1284.24,390.00 1261.26,403.15 1238.28,390.00" fill="#f56d14"/>
<polygon points="1307.23,376.85 1330.21,390.00 1307.23,403.15 1284.25,390.00" fill="#f56d14"/>
<polygon points="962.45,390.00 985.44,403.15 962.45,416.30 939.47,403.15" fill="#fff7ec"/>
<polygon points="1008.42,390.00 1031.41,403.15 1008.42,416.30 985.44,403.15" fill="#de4e05"/>
<polygon points="1054.39,390.00 1077.38,403.15 1054.39,416.30 1031.41,403.15" fill="#feecd6"/>
<polygon points="1100.37,390.00 1123.35,403.15 1100.37,416.30 1077.38,403.15" fill="#de4e05"/>
<polygon points="1146.33,390.00 1169.32,403.15 1146.33,416.30 1123.35,403.15" fill="#fff7ec"/>
<polygon points="1192.30,390.00 1215.29,403.15 1192.30,416.30 1169.32,403.15" fill="#feecd6"/>
<polygon points="1238.27,390.00 1261.26,403.15 1238.27,416.30 1215.29,403.15" fill="#8a2c05"/>
<polygon points="1284.24,390.00 1307.23,403.15 1284.24,416.30 1261.26,403.15" fill="#fdd3a4"/>
<polygon points="985.44,403.15 1008.42,416.30 985.44,429.45 962.45,416.30" fill="#c54308"/>
<polygon points="1031.41,403.15 1054.39,416.30 1031.41,429.45 1008.42,416.30" fill="#feecd6"/>
<polygon points="1077.38,403.15 1100.36,416.30 1077.38,429.45 1054.39,416.30" fill="#c54308"/>
<polygon points="1123.35,403.15 1146.33,416.30 1123.35,429.45 1100.37,416.30" fill="#fb7d22"/>
<polygon points="1169.32,403.15 1192.30,416.30 1169.32,429.45 1146.34,416.30" fill="#fdc48c"/>
<polygon points="1215.29,403.15 1238.27,416.30 1215.29,429.45 1192.31,416.30" fill="#8a2c05"/>
<polygon points="1261.26,403.15 1284.24,416.30 1261.26,429.45 1238.28,416.30" fill="#de4e05"/>
<polygon points="1008.42,416.30 1031.41,429.45 1008.42,442.60 985.44,429.45" fill="#feecd6"/>
<polygon points="1054.39,416.30 1077.38,429.45 1054.39,442.60 1031.41,429.45" fill="#a63603"/>
<polygon points="1100.37,416.30 1123.35,429.45 1100.37,442.60 1077.38,429.45" fill="#de4e05"/>
<polygon points="1146.33,416.30 1169.32,429.45 1146.33,442.60 1123.35,429.45" fill="#f56d14"/>
<polygon points="1192.30,416.30 1215.29,429.45 1192.30,442.60 1169.32,429.45" fill="#f56d14"/>
<polygon points="1238.27,416.30 1261.26,429.45 1238.27,442.60 1215.29,429.45" fill="#f56d14"/>
<polygon points="1031.41,429.45 1054.39,442.60 1031.41,455.75 1008.42,442.60" fill="#a63603"/>
<polygon points="1077.38,429.45 1100.36,442.60 1077.38,455.75 1054.39,442.60" fill="#fdb26e"/>
<polygon points="1123.35,429.45 1146.33,442.60 1123.35,455.75 1100.37,442.60" fill="#a63603"/>
<polygon points="1169.32,429.45 1192.30,442.60 1169.32,455.75 1146.34,442.60" fill="#fff7ec"/>
<polygon points="1215.29,429.45 1238.27,442.60 1215.29,455.75 1192.31,442.60" fill="#fdb26e"/>
<polygon points="1054.39,442.60 1077.38,455.75 1054.39,468.90 1031.41,455.75" fill="#ee5e0b"/>
<polygon points="1100.37,442.60 1123.35,455.75 1100.37,468.90 1077.38,455.75" fill="#fdd3a4"/>
<polygon points="1146.33,442.60 1169.32,455.75 1146.33,468.90 1123.35,455.75" fill="#fff7ec"/>
<polygon points="1192.30,442.60 1215.29,455.75 1192.30,468.90 1169.32,455.75" fill="#fdb26e"/>
<polygon points="1077.38,455.75 1100.36,468.90 1077.38,482.05 1054.39,468.90" fill="#ee5e0b"/>
<polygon points="1123.35,455.75 1146.33,468.90 1123.35,482.05 1100.37,468.90" fill="#a63603"/>
<polygon points="1169.32,455.75 1192.30,468.90 1169.32,482.05 1146.34,468.90" fill="#a63603"/>
<polygon points="1100.37,468.90 1123.35,482.05 1100.37,495.20 1077.38,482.05" fill="#de4e05"/>
<polygon points="1146.33,468.90 1169.32,482.05 1146.33,495.20 1123.35,482.05" fill="#fdd3a4"/>
<polygon points="1123.35,482.05 1146.33,495.20 1123.35,508.35 1100.37,495.20" fill="#fd8f3d"/>
</g></g>
<g id="g-blue">
<polygon points="1123.85,91.45 1353.60,223.65 1123.85,355.85 894.10,223.65" fill="#000" opacity="0.4" filter="url(#sh)"/>
<g stroke="#06293c" stroke-width="1.75" stroke-linejoin="round">
<polygon points="1123.85,91.45 1146.82,104.67 1123.85,117.89 1100.88,104.67" fill="#f7fcff"/>
<polygon points="1100.88,104.67 1123.85,117.89 1100.88,131.11 1077.90,117.89" fill="#f7fcff"/>
<polygon points="1146.82,104.67 1169.80,117.89 1146.82,131.11 1123.85,117.89" fill="#f7fcff"/>
<polygon points="1077.90,117.89 1100.87,131.11 1077.90,144.33 1054.92,131.11" fill="#f7fcff"/>
<polygon points="1123.85,117.89 1146.82,131.11 1123.85,144.33 1100.88,131.11" fill="#f7fcff"/>
<polygon points="1169.80,117.89 1192.77,131.11 1169.80,144.33 1146.83,131.11" fill="#f7fcff"/>
<polygon points="1054.92,131.11 1077.90,144.33 1054.92,157.55 1031.95,144.33" fill="#f7fcff"/>
<polygon points="1100.88,131.11 1123.85,144.33 1100.88,157.55 1077.90,144.33" fill="#f7fcff"/>
<polygon points="1146.82,131.11 1169.80,144.33 1146.82,157.55 1123.85,144.33" fill="#f7fcff"/>
<polygon points="1192.77,131.11 1215.75,144.33 1192.77,157.55 1169.80,144.33" fill="#f7fcff"/>
<polygon points="1031.95,144.33 1054.92,157.55 1031.95,170.77 1008.97,157.55" fill="#f7fcff"/>
<polygon points="1077.90,144.33 1100.87,157.55 1077.90,170.77 1054.92,157.55" fill="#f7fcff"/>
<polygon points="1123.85,144.33 1146.82,157.55 1123.85,170.77 1100.88,157.55" fill="#f7fcff"/>
<polygon points="1169.80,144.33 1192.77,157.55 1169.80,170.77 1146.83,157.55" fill="#f7fcff"/>
<polygon points="1215.75,144.33 1238.72,157.55 1215.75,170.77 1192.78,157.55" fill="#d6ebfb"/>
<polygon points="1008.97,157.55 1031.95,170.77 1008.97,183.99 986.00,170.77" fill="#d6ebfb"/>
<polygon points="1054.92,157.55 1077.90,170.77 1054.92,183.99 1031.95,170.77" fill="#d6ebfb"/>
<polygon points="1100.88,157.55 1123.85,170.77 1100.88,183.99 1077.90,170.77" fill="#d6ebfb"/>
<polygon points="1146.82,157.55 1169.80,170.77 1146.82,183.99 1123.85,170.77" fill="#d6ebfb"/>
<polygon points="1192.77,157.55 1215.75,170.77 1192.77,183.99 1169.80,170.77" fill="#d6ebfb"/>
<polygon points="1238.72,157.55 1261.70,170.77 1238.72,183.99 1215.75,170.77" fill="#abd2f2"/>
<polygon points="986.00,170.77 1008.97,183.99 986.00,197.21 963.02,183.99" fill="#abd2f2"/>
<polygon points="1031.95,170.77 1054.92,183.99 1031.95,197.21 1008.97,183.99" fill="#abd2f2"/>
<polygon points="1077.90,170.77 1100.87,183.99 1077.90,197.21 1054.92,183.99" fill="#abd2f2"/>
<polygon points="1123.85,170.77 1146.82,183.99 1123.85,197.21 1100.88,183.99" fill="#abd2f2"/>
<polygon points="1169.80,170.77 1192.77,183.99 1169.80,197.21 1146.83,183.99" fill="#abd2f2"/>
<polygon points="1215.75,170.77 1238.72,183.99 1215.75,197.21 1192.78,183.99" fill="#abd2f2"/>
<polygon points="1261.70,170.77 1284.67,183.99 1261.70,197.21 1238.72,183.99" fill="#4f9bdd"/>
<polygon points="963.02,183.99 986.00,197.21 963.02,210.43 940.05,197.21" fill="#abd2f2"/>
<polygon points="1008.97,183.99 1031.95,197.21 1008.97,210.43 986.00,197.21" fill="#4f9bdd"/>
<polygon points="1054.92,183.99 1077.90,197.21 1054.92,210.43 1031.95,197.21" fill="#4f9bdd"/>
<polygon points="1100.88,183.99 1123.85,197.21 1100.88,210.43 1077.90,197.21" fill="#4f9bdd"/>
<polygon points="1146.82,183.99 1169.80,197.21 1146.82,210.43 1123.85,197.21" fill="#4f9bdd"/>
<polygon points="1192.77,183.99 1215.75,197.21 1192.77,210.43 1169.80,197.21" fill="#4f9bdd"/>
<polygon points="1238.72,183.99 1261.70,197.21 1238.72,210.43 1215.75,197.21" fill="#4f9bdd"/>
<polygon points="1284.67,183.99 1307.65,197.21 1284.67,210.43 1261.70,197.21" fill="#2a6aa8"/>
<polygon points="940.05,197.21 963.02,210.43 940.05,223.65 917.07,210.43" fill="#4f9bdd"/>
<polygon points="986.00,197.21 1008.97,210.43 986.00,223.65 963.02,210.43" fill="#4f9bdd"/>
<polygon points="1031.95,197.21 1054.92,210.43 1031.95,223.65 1008.97,210.43" fill="#2a6aa8"/>
<polygon points="1077.90,197.21 1100.87,210.43 1077.90,223.65 1054.92,210.43" fill="#2a6aa8"/>
<polygon points="1123.85,197.21 1146.82,210.43 1123.85,223.65 1100.88,210.43" fill="#2a6aa8"/>
<polygon points="1169.80,197.21 1192.77,210.43 1169.80,223.65 1146.83,210.43" fill="#4f9bdd"/>
<polygon points="1215.75,197.21 1238.72,210.43 1215.75,223.65 1192.78,210.43" fill="#4f9bdd"/>
<polygon points="1261.70,197.21 1284.67,210.43 1261.70,223.65 1238.72,210.43" fill="#2a6aa8"/>
<polygon points="1307.65,197.21 1330.62,210.43 1307.65,223.65 1284.67,210.43" fill="#4f9bdd"/>
<polygon points="917.07,210.43 940.05,223.65 917.07,236.87 894.10,223.65" fill="#4f9bdd"/>
<polygon points="963.02,210.43 986.00,223.65 963.02,236.87 940.05,223.65" fill="#2a6aa8"/>
<polygon points="1008.97,210.43 1031.95,223.65 1008.97,236.87 986.00,223.65" fill="#2a6aa8"/>
<polygon points="1054.92,210.43 1077.90,223.65 1054.92,236.87 1031.95,223.65" fill="#4f9bdd"/>
<polygon points="1100.88,210.43 1123.85,223.65 1100.88,236.87 1077.90,223.65" fill="#4f9bdd"/>
<polygon points="1146.82,210.43 1169.80,223.65 1146.82,236.87 1123.85,223.65" fill="#2a6aa8"/>
<polygon points="1192.77,210.43 1215.75,223.65 1192.77,236.87 1169.80,223.65" fill="#2a6aa8"/>
<polygon points="1238.72,210.43 1261.70,223.65 1238.72,236.87 1215.75,223.65" fill="#2a6aa8"/>
<polygon points="1284.67,210.43 1307.65,223.65 1284.67,236.87 1261.70,223.65" fill="#4f9bdd"/>
<polygon points="1330.62,210.43 1353.60,223.65 1330.62,236.87 1307.65,223.65" fill="#abd2f2"/>
<polygon points="940.05,223.65 963.02,236.87 940.05,250.09 917.07,236.87" fill="#2a6aa8"/>
<polygon points="986.00,223.65 1008.97,236.87 986.00,250.09 963.02,236.87" fill="#4f9bdd"/>
<polygon points="1031.95,223.65 1054.92,236.87 1031.95,250.09 1008.97,236.87" fill="#4f9bdd"/>
<polygon points="1077.90,223.65 1100.87,236.87 1077.90,250.09 1054.92,236.87" fill="#4f9bdd"/>
<polygon points="1123.85,223.65 1146.82,236.87 1123.85,250.09 1100.88,236.87" fill="#4f9bdd"/>
<polygon points="1169.80,223.65 1192.77,236.87 1169.80,250.09 1146.83,236.87" fill="#4f9bdd"/>
<polygon points="1215.75,223.65 1238.72,236.87 1215.75,250.09 1192.78,236.87" fill="#4f9bdd"/>
<polygon points="1261.70,223.65 1284.67,236.87 1261.70,250.09 1238.72,236.87" fill="#4f9bdd"/>
<polygon points="1307.65,223.65 1330.62,236.87 1307.65,250.09 1284.67,236.87" fill="#abd2f2"/>
<polygon points="963.02,236.87 986.00,250.09 963.02,263.31 940.05,250.09" fill="#4f9bdd"/>
<polygon points="1008.97,236.87 1031.95,250.09 1008.97,263.31 986.00,250.09" fill="#abd2f2"/>
<polygon points="1054.92,236.87 1077.90,250.09 1054.92,263.31 1031.95,250.09" fill="#abd2f2"/>
<polygon points="1100.88,236.87 1123.85,250.09 1100.88,263.31 1077.90,250.09" fill="#abd2f2"/>
<polygon points="1146.82,236.87 1169.80,250.09 1146.82,263.31 1123.85,250.09" fill="#abd2f2"/>
<polygon points="1192.77,236.87 1215.75,250.09 1192.77,263.31 1169.80,250.09" fill="#abd2f2"/>
<polygon points="1238.72,236.87 1261.70,250.09 1238.72,263.31 1215.75,250.09" fill="#abd2f2"/>
<polygon points="1284.67,236.87 1307.65,250.09 1284.67,263.31 1261.70,250.09" fill="#abd2f2"/>
<polygon points="986.00,250.09 1008.97,263.31 986.00,276.53 963.02,263.31" fill="#abd2f2"/>
<polygon points="1031.95,250.09 1054.92,263.31 1031.95,276.53 1008.97,263.31" fill="#abd2f2"/>
<polygon points="1077.90,250.09 1100.87,263.31 1077.90,276.53 1054.92,263.31" fill="#abd2f2"/>
<polygon points="1123.85,250.09 1146.82,263.31 1123.85,276.53 1100.88,263.31" fill="#abd2f2"/>
<polygon points="1169.80,250.09 1192.77,263.31 1169.80,276.53 1146.83,263.31" fill="#abd2f2"/>
<polygon points="1215.75,250.09 1238.72,263.31 1215.75,276.53 1192.78,263.31" fill="#abd2f2"/>
<polygon points="1261.70,250.09 1284.67,263.31 1261.70,276.53 1238.72,263.31" fill="#abd2f2"/>
<polygon points="1008.97,263.31 1031.95,276.53 1008.97,289.75 986.00,276.53" fill="#d6ebfb"/>
<polygon points="1054.92,263.31 1077.90,276.53 1054.92,289.75 1031.95,276.53" fill="#d6ebfb"/>
<polygon points="1100.88,263.31 1123.85,276.53 1100.88,289.75 1077.90,276.53" fill="#d6ebfb"/>
<polygon points="1146.82,263.31 1169.80,276.53 1146.82,289.75 1123.85,276.53" fill="#d6ebfb"/>
<polygon points="1192.77,263.31 1215.75,276.53 1192.77,289.75 1169.80,276.53" fill="#d6ebfb"/>
<polygon points="1238.72,263.31 1261.70,276.53 1238.72,289.75 1215.75,276.53" fill="#d6ebfb"/>
<polygon points="1031.95,276.53 1054.92,289.75 1031.95,302.97 1008.97,289.75" fill="#f7fcff"/>
<polygon points="1077.90,276.53 1100.87,289.75 1077.90,302.97 1054.92,289.75" fill="#d6ebfb"/>
<polygon points="1123.85,276.53 1146.82,289.75 1123.85,302.97 1100.88,289.75" fill="#d6ebfb"/>
<polygon points="1169.80,276.53 1192.77,289.75 1169.80,302.97 1146.83,289.75" fill="#d6ebfb"/>
<polygon points="1215.75,276.53 1238.72,289.75 1215.75,302.97 1192.78,289.75" fill="#f7fcff"/>
<polygon points="1054.92,289.75 1077.90,302.97 1054.92,316.19 1031.95,302.97" fill="#f7fcff"/>
<polygon points="1100.88,289.75 1123.85,302.97 1100.88,316.19 1077.90,302.97" fill="#f7fcff"/>
<polygon points="1146.82,289.75 1169.80,302.97 1146.82,316.19 1123.85,302.97" fill="#f7fcff"/>
<polygon points="1192.77,289.75 1215.75,302.97 1192.77,316.19 1169.80,302.97" fill="#f7fcff"/>
<polygon points="1077.90,302.97 1100.87,316.19 1077.90,329.41 1054.92,316.19" fill="#f7fcff"/>
<polygon points="1123.85,302.97 1146.82,316.19 1123.85,329.41 1100.88,316.19" fill="#f7fcff"/>
<polygon points="1169.80,302.97 1192.77,316.19 1169.80,329.41 1146.83,316.19" fill="#f7fcff"/>
<polygon points="1100.88,316.19 1123.85,329.41 1100.88,342.63 1077.90,329.41" fill="#f7fcff"/>
<polygon points="1146.82,316.19 1169.80,329.41 1146.82,342.63 1123.85,329.41" fill="#f7fcff"/>
<polygon points="1123.85,329.41 1146.82,342.63 1123.85,355.85 1100.88,342.63" fill="#f7fcff"/>
</g></g>
<rect x="444.58" y="169.88" width="402.95" height="107.55" fill="#d6ebfd" stroke="#000" stroke-width="4.95"/>
<rect x="444.58" y="324.88" width="402.85" height="107.35" fill="#fecf99" stroke="#000" stroke-width="4.95"/>
<rect x="446.58" y="480.58" width="402.95" height="107.75" fill="#c2efc8" stroke="#000" stroke-width="4.95"/>
<rect x="1430.47" y="254.57" width="372.05" height="244.75" fill="#e6b5ae" stroke="#000" stroke-width="4.95"/>
<g opacity="0.999"><text id="t1" x="93.10" y="109.75" font-size="30.0" font-weight="700" stroke-width="0.9" textLength="226.06" lengthAdjust="spacingAndGlyphs">Environment &amp;</text>
<text id="t2" x="99.19" y="147.60" font-size="30.0" font-weight="700" stroke-width="0.9" textLength="213.86" lengthAdjust="spacingAndGlyphs">Property Data</text>
<text id="t3" x="97.98" y="455.30" font-size="30.0" font-weight="700" stroke-width="0.9" textLength="213.63" lengthAdjust="spacingAndGlyphs">Financial Data</text>
<text id="t4" x="973.07" y="39.40" font-size="30.0" font-weight="700" stroke-width="0.9" textLength="294.48" lengthAdjust="spacingAndGlyphs">Simulated Financial</text>
<text id="t5" x="1038.98" y="77.40" font-size="30.0" font-weight="700" stroke-width="0.9" textLength="162.75" lengthAdjust="spacingAndGlyphs">Conditions</text>
<text id="t6" x="460.73" y="214.80" font-size="30.0" font-weight="700" stroke-width="0.9" textLength="243.51" lengthAdjust="spacingAndGlyphs">I. Flood Damage</text>
<text id="t7" x="460.54" y="254.70" font-size="31.0" stroke-width="0.45" textLength="318.16" lengthAdjust="spacingAndGlyphs">2-stage Random Forest</text>
<text id="t8" x="460.06" y="364.10" font-size="30.0" font-weight="700" stroke-width="0.9" textLength="258.14" lengthAdjust="spacingAndGlyphs">II. Property Value</text>
<text id="t9" x="459.62" y="404.20" font-size="31.0" stroke-width="0.45" textLength="339.16" lengthAdjust="spacingAndGlyphs">Space-time interpolation</text>
<text id="t10" x="460.43" y="519.80" font-size="30.0" font-weight="700" stroke-width="0.9" textLength="369.33" lengthAdjust="spacingAndGlyphs">III. Mortgage Repayment</text>
<text id="t11" x="459.59" y="559.70" font-size="31.0" stroke-width="0.45" textLength="288.59" lengthAdjust="spacingAndGlyphs">Stochastic simulation</text>
<text id="t12" x="1450.95" y="301.20" font-size="30.0" font-weight="700" stroke-width="0.9" textLength="326.14" lengthAdjust="spacingAndGlyphs">IV. Borrower Finances</text>
<text id="t13" x="1451.11" y="341.30" font-size="31.0" stroke-width="0.45" textLength="275.59" lengthAdjust="spacingAndGlyphs">- Uninsured damage</text>
<text id="t14" x="1451.19" y="381.60" font-size="31.0" stroke-width="0.45" textLength="199.23" lengthAdjust="spacingAndGlyphs">- Home equity</text>
<text id="t15" x="1451.19" y="422.30" font-size="31.0" stroke-width="0.45" textLength="301.44" lengthAdjust="spacingAndGlyphs">- Adjusted CLTV ratio</text>
<text id="t16" x="1451.08" y="462.20" font-size="31.0" stroke-width="0.45" textLength="277.31" lengthAdjust="spacingAndGlyphs">- Adjusted DTI ratio</text></g>
</svg>
</body></html>
